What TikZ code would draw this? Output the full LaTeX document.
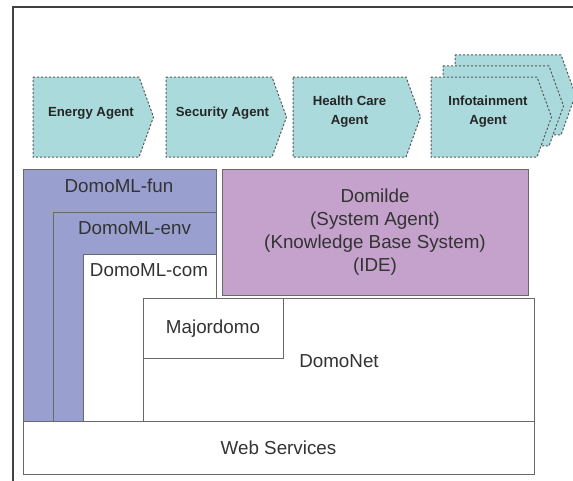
\documentclass[tikz,border=0pt]{standalone}
\usepackage{fontspec}
\setmainfont{Liberation Sans}

\definecolor{agentfill}{RGB}{170,218,220}
\definecolor{mlblue}{RGB}{153,160,208}
\definecolor{idepink}{RGB}{196,162,204}
\definecolor{edgegray}{RGB}{105,105,105}

\begin{document}
\begin{tikzpicture}[x=1pt,y=-1pt,
  agent/.style={fill=agentfill,draw=black!65,line width=1pt,dash pattern=on 2.2pt off 1.8pt},
  layer/.style={draw=edgegray,line width=0.9pt},
  lbl/.style={font=\fontsize{18.8}{23}\selectfont,text=black!80,align=center},
  albl/.style={font=\bfseries\fontsize{13.2}{19}\selectfont,text=black!85,align=center}]
% layered architecture: agents on top (dashed pentagons), DomoML layers, Domilde, DomoNet, Web Services.
% units are pixels of the 573x480 picture, y grows downwards.
\useasboundingbox (0,0) rectangle (573,480);
\draw[line width=1.2pt,black!75] (13,481) -- (13,7) -- (574,7);
\def\agent#1#2#3{\draw[agent] (#1,#3) -- ++(#2,0) -- ++(14.5,40) -- ++(-14.5,40) -- ++(-#2,0) -- cycle;}
% agents (infotainment is a stack of three)
\agent{33}{106}{77}
\agent{166}{106}{77}
\agent{293}{113}{77}
\foreach \dd in {24,12,0} {\agent{431+\dd}{106}{77-0.92*\dd}}
\node[albl] (energy) at (91,113) {Energy Agent};
\node[albl] (security) at (222.5,113) {Security Agent};
\node[albl] (health) at (349.5,112) {Health Care\\Agent};
\node[albl] (infot) at (488,112) {Infotainment\\Agent};
% DomoML layers
\draw[layer,fill=mlblue] (23,169) rectangle (216,421);
\draw[layer,fill=mlblue] (53.5,212) rectangle (216,421);
\draw[layer,fill=white] (83.5,254) rectangle (216,421);
% DomoNet with Majordomo, Domilde, Web Services
\draw[layer,fill=white] (143.5,298) rectangle (534,421);
\draw[layer,fill=white] (143.5,298) rectangle (283,358);
\draw[layer,fill=idepink] (222,169) rectangle (528,295);
\draw[layer,fill=white] (23,421) rectangle (534,474);
\node[lbl] (fun) at (119,186) {DomoML-fun};
\node[lbl] (env) at (134.5,228) {DomoML-env};
\node[lbl] (com) at (149,270) {DomoML-com};
\node[lbl] (major) at (213,329) {Majordomo};
\node[lbl] (domilde) at (375,232.5) {Domilde\\(System Agent)\\(Knowledge Base System)\\(IDE)};
\node[lbl] (domonet) at (339,361) {DomoNet};
\node[lbl] (websrv) at (278.5,448) {Web Services};
\end{tikzpicture}
\end{document}
